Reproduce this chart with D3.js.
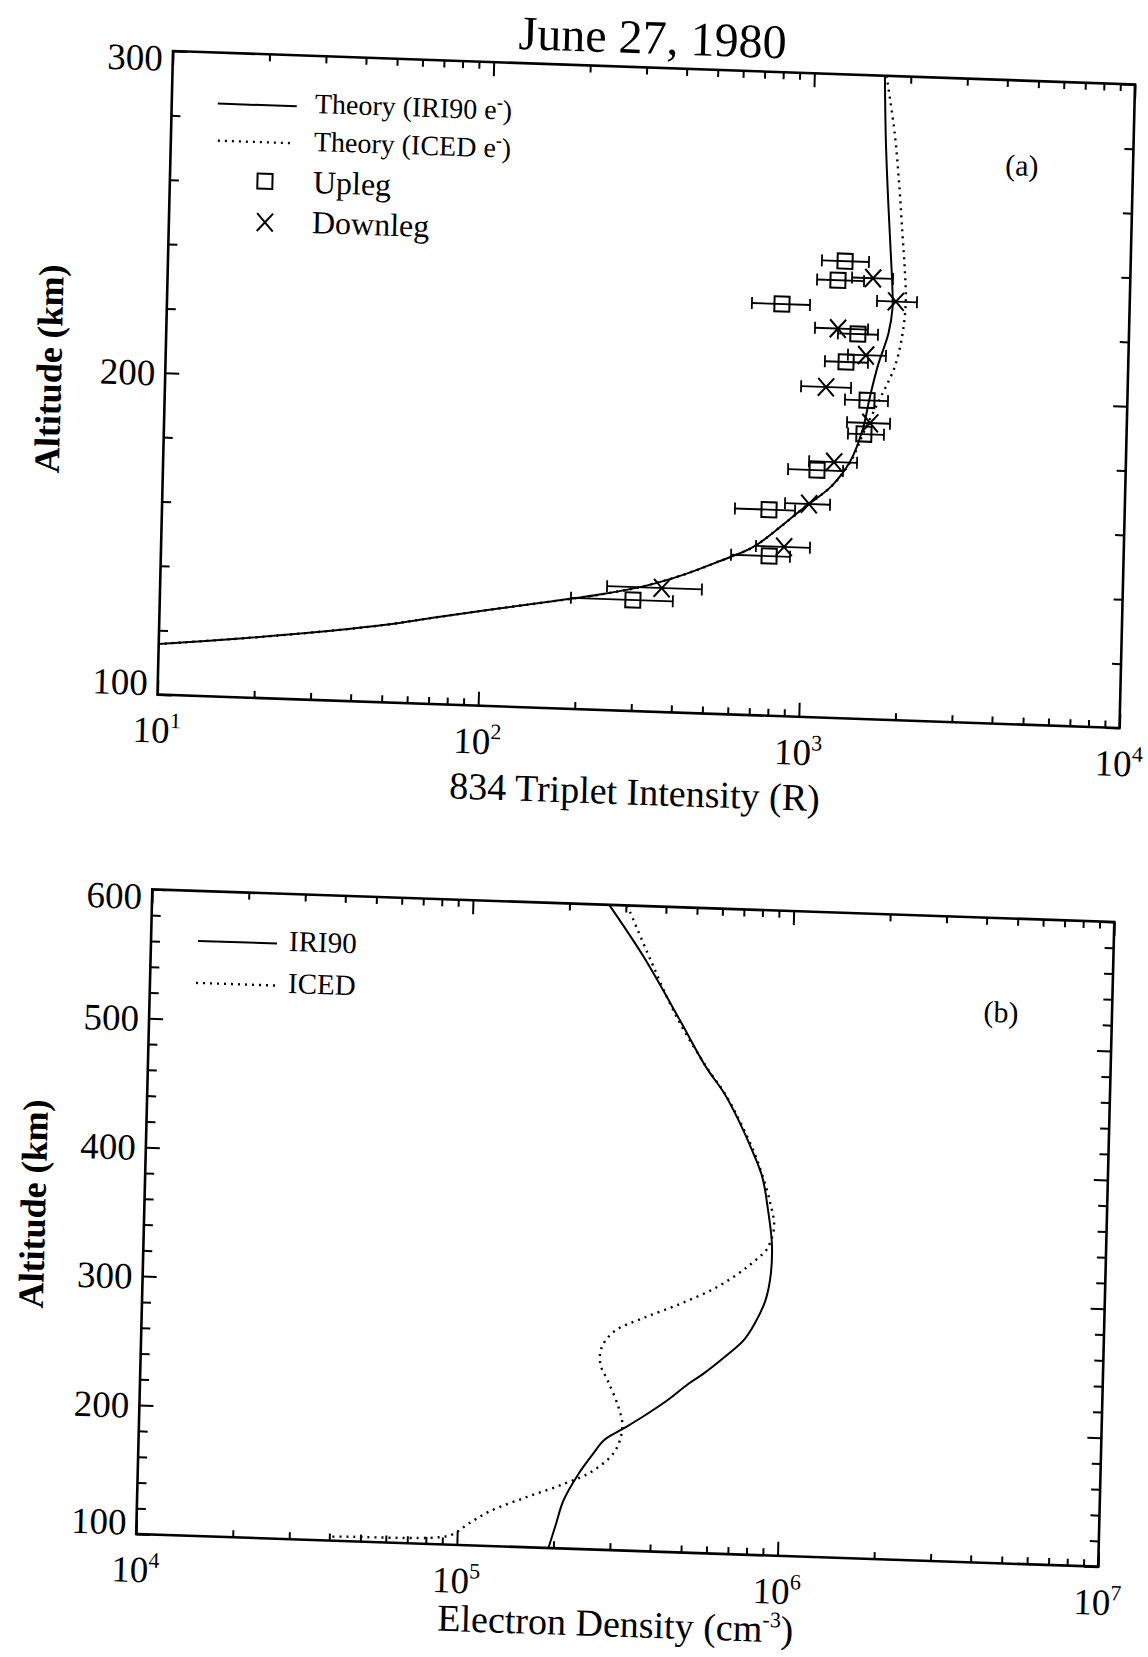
<!DOCTYPE html>
<html>
<head>
<meta charset="utf-8">
<script src="https://cdn.jsdelivr.net/npm/d3@7"></script>
<style>
  body { margin: 0; background: #fff; }
  svg { display: block; background: #fff; }
  text { font-family: "Liberation Serif", "Times New Roman", serif; fill: #000; }
</style>
</head>
<body>
<svg id="chart" width="1148" height="1657"></svg>
<script>
// ---- values ----

// (a) 834 triplet intensity (R) against altitude (km)
const altIRI_a = [300, 280, 260, 245, 235, 228, 220, 210, 200, 190, 180, 172, 165, 158, 152, 147, 143, 139, 136, 133, 130, 127, 124, 121, 118.5, 115.7];
const intIRI_a = [1660, 1690, 1740, 1785, 1815, 1825, 1780, 1660, 1575, 1505, 1385, 1215, 1000, 830, 694, 537, 430, 325, 240, 163, 108, 73, 50, 30.5, 18.8, 10];
const altICED_a = [300, 282, 265, 251, 240, 230, 220, 210, 200, 190, 180, 172, 165, 158, 152, 147, 143, 139, 136, 133, 130, 127, 124, 121, 118.5, 115.7];
const intICED_a = [1680, 1800, 1880, 1935, 1980, 2005, 1969, 1877, 1700, 1530, 1390, 1215, 1000, 830, 694, 537, 430, 325, 240, 163, 108, 73, 50, 30.5, 18.8, 10];

// upleg (squares) and downleg (crosses) with error bar ends
const uplegAlt = [242, 236, 228, 219.5, 210.7, 199, 188.5, 176.8, 164, 149.6, 134.5];
const uplegInt = [1288, 1228, 825, 1430, 1320, 1544, 1519, 1092, 779, 786, 298];
const uplegLo  = [1091, 1057, 665, 1239, 1134, 1318, 1355, 887, 610, 598, 191];
const uplegHi  = [1529, 1481, 1009, 1652, 1545, 1795, 1754, 1316, 939, 913, 397];

const downAlt = [237, 230, 221, 213, 202.7, 192, 179.5, 166.2, 152.6, 138.5];
const downInt = [1579, 1868, 1238, 1521, 1148, 1585, 1232, 1037, 873, 366];
const downLo  = [1358, 1631, 1050, 1336, 960, 1343, 1030, 873, 714, 247];
const downHi  = [1822, 2173, 1536, 1755, 1374, 1829, 1453, 1206, 1052, 488];

// (b) electron density (cm-3) against altitude (km)
const altIRI_b = [600, 561, 512, 477, 457, 436, 411, 393, 367, 342, 318, 298, 279, 266, 253, 239, 231, 217, 205, 194, 185, 174, 158, 137, 119, 100];
const denIRI_b = [2.66e5, 3.43e5, 4.52e5, 5.48e5, 6.28e5, 7.01e5, 7.83e5, 8.38e5, 8.79e5, 9.08e5, 9.06e5, 8.77e5, 8.13e5, 7.54e5, 6.63e5, 5.68e5, 5.12e5, 4.38e5, 3.75e5, 3.21e5, 2.82e5, 2.61e5, 2.36e5, 2.13e5, 2.03e5, 1.93e5];
const altICED_b = [600, 558, 515, 477, 457, 436, 411, 398, 375, 355, 339, 336, 323, 307, 293, 281, 270, 257, 244, 231, 211, 196, 177, 161, 150, 139, 127, 116.5, 108.4, 105.4, 103.4, 103];
const denICED_b = [3.03e5, 3.62e5, 4.40e5, 5.50e5, 6.30e5, 7.05e5, 7.90e5, 8.28e5, 8.87e5, 9.2e5, 8.85e5, 8.69e5, 7.64e5, 6.21e5, 4.79e5, 3.68e5, 2.99e5, 2.73e5, 2.71e5, 2.87e5, 3.11e5, 3.21e5, 3.06e5, 2.62e5, 2.13e5, 1.64e5, 1.26e5, 1.08e5, 9.74e4, 8.77e4, 4.41e4, 4.0e4];

// tick labels
const xPowersA = [1, 2, 3, 4];
const xPowersB = [4, 5, 6, 7];
const yLabelsA = [100, 200, 300];
const yLabelsB = [100, 200, 300, 400, 500, 600];

// ---- drawing ----
const svg = d3.select("#chart");

// the scan is slightly rotated, so each panel sits in a skewed frame
const panelA = { x0: 173, y0: 51, w: 962, h: 643.5, kx: 0.0348, ky: -0.0241 };
const panelB = { x0: 152.3, y0: 889.3, w: 962, h: 644.7, kx: 0.034, ky: -0.025 };

function frame(p) {
    return svg.append("g")
        .attr("transform", `matrix(1,${p.kx},${p.ky},1,${p.x0},${p.y0})`);
}

// inward ticks on one side of the box
function tickSide(g, axis, tr, values, size) {
    g.append("g").attr("transform", tr)
        .call(axis.tickValues(values).tickSize(-size).tickFormat(""))
        .call(a => a.select(".domain").remove())
        .selectAll("line").attr("stroke", "#000").attr("stroke-width", 2);
}

function drawAxes(g, p, x, y, powers, yLabels, yStep) {
    const decadesMajor = powers.map(d => Math.pow(10, d));
    const decadesMinor = [];
    powers.slice(0, -1).forEach(d => {
        for (let m = 2; m <= 9; m++) decadesMinor.push(m * Math.pow(10, d));
    });
    const [y0, y1] = y.domain();
    const yMinor = d3.range(y0, y1 + 0.1, yStep).filter(v => !yLabels.includes(v));

    // frame
    g.append("rect").attr("width", p.w).attr("height", p.h)
        .attr("fill", "none").attr("stroke", "#000").attr("stroke-width", 2.6);

    tickSide(g, d3.axisBottom(x), `translate(0,${p.h})`, decadesMajor, 14);
    tickSide(g, d3.axisBottom(x), `translate(0,${p.h})`, decadesMinor, 7);
    tickSide(g, d3.axisTop(x), "translate(0,0)", decadesMajor, 14);
    tickSide(g, d3.axisTop(x), "translate(0,0)", decadesMinor, 7);
    tickSide(g, d3.axisLeft(y), "translate(0,0)", yLabels, 14);
    tickSide(g, d3.axisLeft(y), "translate(0,0)", yMinor, 9);
    tickSide(g, d3.axisRight(y), `translate(${p.w},0)`, yLabels, 14);
    tickSide(g, d3.axisRight(y), `translate(${p.w},0)`, yMinor, 9);

    // x labels: 10 with a raised exponent
    g.selectAll(".xl").data(powers).join("text")
        .attr("class", "xl")
        .attr("x", d => x(Math.pow(10, d)))
        .attr("y", p.h + 48)
        .attr("text-anchor", "middle")
        .attr("font-size", 37)
        .each(function(d) {
            const t = d3.select(this);
            t.append("tspan").text("10");
            t.append("tspan").attr("dy", -15).attr("font-size", 22).text(d);
        });

    // y labels (the end labels sit a little inside the frame, as printed)
    const top = d3.max(yLabels), bottom = d3.min(yLabels);
    g.selectAll(".yl").data(yLabels).join("text")
        .attr("class", "yl")
        .attr("x", -10)
        .attr("y", d => y(d) + (d === top ? 7 : d === bottom ? -12 : 0))
        .attr("dy", "0.35em")
        .attr("text-anchor", "end")
        .attr("font-size", 37)
        .text(d => d);
}

function curve(g, x, y, alts, vals, dotted) {
    const pts = alts.map((a, i) => [x(vals[i]), y(a)]);
    g.append("path")
        .attr("d", d3.line().curve(d3.curveCatmullRom.alpha(0.5))(pts))
        .attr("fill", "none")
        .attr("stroke", "#000")
        .attr("stroke-width", dotted ? 2.4 : 2)
        .attr("stroke-dasharray", dotted ? "2,5" : null);
}

function errorBars(g, x, y, alts, lo, hi) {
    const eb = g.append("g").attr("stroke", "#000").attr("stroke-width", 1.8);
    alts.forEach((a, i) => {
        const yy = y(a);
        eb.append("line").attr("x1", x(lo[i])).attr("x2", x(hi[i])).attr("y1", yy).attr("y2", yy);
        eb.append("line").attr("x1", x(lo[i])).attr("x2", x(lo[i])).attr("y1", yy - 6).attr("y2", yy + 6);
        eb.append("line").attr("x1", x(hi[i])).attr("x2", x(hi[i])).attr("y1", yy - 6).attr("y2", yy + 6);
    });
}

function square(g, cx, cy) {
    g.append("rect").attr("x", cx - 7.5).attr("y", cy - 7.5)
        .attr("width", 15).attr("height", 15)
        .attr("fill", "none").attr("stroke", "#000").attr("stroke-width", 2);
}

function cross(g, cx, cy) {
    g.append("path")
        .attr("d", `M${cx - 8},${cy - 9}L${cx + 8},${cy + 9}M${cx - 8},${cy + 9}L${cx + 8},${cy - 9}`)
        .attr("stroke", "#000").attr("stroke-width", 2).attr("fill", "none");
}

// ---------- panel (a) ----------
const ga = frame(panelA);
const xA = d3.scaleLog().domain([10, 1e4]).range([0, panelA.w]);
const yA = d3.scaleLinear().domain([100, 300]).range([panelA.h, 0]);

ga.append("text").attr("x", 479).attr("y", -14)
    .attr("text-anchor", "middle").attr("font-size", 48)
    .text("June 27, 1980");

drawAxes(ga, panelA, xA, yA, xPowersA, yLabelsA, 20);

curve(ga, xA, yA, altIRI_a, intIRI_a, false);
curve(ga, xA, yA, altICED_a, intICED_a, true);

errorBars(ga, xA, yA, uplegAlt, uplegLo, uplegHi);
errorBars(ga, xA, yA, downAlt, downLo, downHi);
uplegAlt.forEach((a, i) => square(ga, xA(uplegInt[i]), yA(a)));
downAlt.forEach((a, i) => cross(ga, xA(downInt[i]), yA(a)));

// legend (a)
ga.append("line").attr("x1", 46).attr("x2", 125).attr("y1", 51).attr("y2", 51)
    .attr("stroke", "#000").attr("stroke-width", 2);
ga.append("line").attr("x1", 47).attr("x2", 121).attr("y1", 88).attr("y2", 88)
    .attr("stroke", "#000").attr("stroke-width", 2.4).attr("stroke-dasharray", "2,5");
[["Theory (IRI90 e", 57], ["Theory (ICED e", 95]].forEach(([lab, yy]) => {
    const t = ga.append("text").attr("x", 143).attr("y", yy).attr("font-size", 28);
    t.append("tspan").text(lab);
    t.append("tspan").attr("dy", -11).attr("font-size", 18).text("-");
    t.append("tspan").attr("dy", 11).text(")");
});
square(ga, 95, 127);
ga.append("text").attr("x", 143).attr("y", 137).attr("font-size", 32).text("Upleg");
cross(ga, 96, 168);
ga.append("text").attr("x", 143).attr("y", 177).attr("font-size", 32).text("Downleg");

ga.append("text").attr("x", 851).attr("y", 95).attr("text-anchor", "middle")
    .attr("font-size", 30).text("(a)");

ga.append("text").attr("x", 479).attr("y", 737).attr("text-anchor", "middle")
    .attr("font-size", 38).text("834 Triplet Intensity (R)");

ga.append("text").attr("transform", `translate(-104,${panelA.h / 2}) rotate(-90)`)
    .attr("text-anchor", "middle").attr("font-size", 36).attr("font-weight", "bold")
    .text("Altitude (km)");

// ---------- panel (b) ----------
const gb = frame(panelB);
const xB = d3.scaleLog().domain([1e4, 1e7]).range([0, panelB.w]);
const yB = d3.scaleLinear().domain([100, 600]).range([panelB.h, 0]);

drawAxes(gb, panelB, xB, yB, xPowersB, yLabelsB, 20);

curve(gb, xB, yB, altIRI_b, denIRI_b, false);
curve(gb, xB, yB, altICED_b, denICED_b, true);

// legend (b)
gb.append("line").attr("x1", 47).attr("x2", 126).attr("y1", 50).attr("y2", 50)
    .attr("stroke", "#000").attr("stroke-width", 2);
gb.append("text").attr("x", 138).attr("y", 57).attr("font-size", 29).text("IRI90");
gb.append("line").attr("x1", 46).attr("x2", 127).attr("y1", 92).attr("y2", 92)
    .attr("stroke", "#000").attr("stroke-width", 2.4).attr("stroke-dasharray", "2,5");
gb.append("text").attr("x", 138).attr("y", 99).attr("font-size", 29).text("ICED");

gb.append("text").attr("x", 851).attr("y", 104).attr("text-anchor", "middle")
    .attr("font-size", 30).text("(b)");

const xt = gb.append("text").attr("x", 481).attr("y", 731)
    .attr("text-anchor", "middle").attr("font-size", 38);
xt.append("tspan").text("Electron Density (cm");
xt.append("tspan").attr("dy", -15).attr("font-size", 22).text("-3");
xt.append("tspan").attr("dy", 15).text(")");

gb.append("text").attr("transform", `translate(-99,${panelB.h / 2 - 4}) rotate(-90)`)
    .attr("text-anchor", "middle").attr("font-size", 36).attr("font-weight", "bold")
    .text("Altitude (km)");
</script>
</body>
</html>
